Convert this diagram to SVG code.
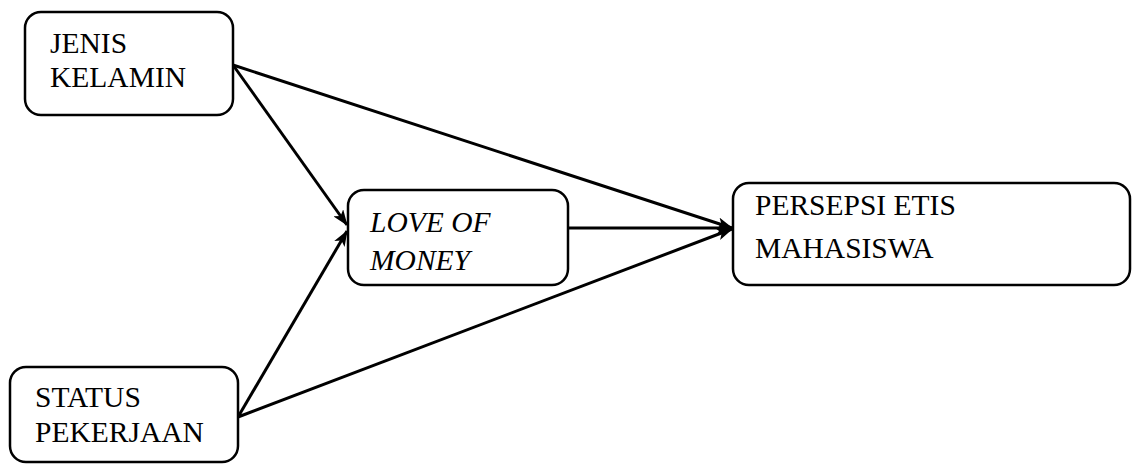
<svg xmlns="http://www.w3.org/2000/svg" width="1136" height="467" viewBox="0 0 1136 467">
<style>
.box{fill:#fff;stroke:#000;stroke-width:2.5}
.t{font-family:'Liberation Serif','Times New Roman',serif;font-size:29.5px;fill:#000}
.i{font-style:italic}
.c{stroke:#000;stroke-width:3;fill:none;marker-end:url(#ah)}
</style>
<defs>
<marker id="ah" markerWidth="16" markerHeight="12" refX="15" refY="6" orient="auto" markerUnits="userSpaceOnUse">
<path d="M0,0 L16,6 L0,12 L4,6 Z" fill="#000"/>
</marker>
</defs>
<rect width="1136" height="467" fill="#fff"/>
<g id="connectors">
<line class="c" x1="233" y1="65" x2="732" y2="228"/>
<line class="c" x1="233" y1="65" x2="347" y2="225"/>
<line class="c" x1="238" y1="417" x2="347" y2="231"/>
<line class="c" x1="238" y1="417" x2="732" y2="229"/>
<line class="c" x1="568" y1="228" x2="732" y2="228"/>
</g>
<g id="jenis">
<rect class="box" x="25" y="12" width="208" height="103" rx="16"/>
<text class="t" x="50" y="53">JENIS</text>
<text class="t" x="50" y="87">KELAMIN</text>
</g>
<g id="status">
<rect class="box" x="10" y="367" width="228" height="95" rx="16"/>
<text class="t" x="35" y="407">STATUS</text>
<text class="t" x="35" y="442">PEKERJAAN</text>
</g>
<g id="love">
<rect class="box" x="348" y="190" width="220" height="95" rx="16"/>
<text class="t i" x="370" y="232">LOVE OF</text>
<text class="t i" x="370" y="270">MONEY</text>
</g>
<g id="persepsi">
<rect class="box" x="733" y="183" width="397" height="102" rx="16"/>
<text class="t" x="755" y="215">PERSEPSI ETIS</text>
<text class="t" x="755" y="258">MAHASISWA</text>
</g>
</svg>
